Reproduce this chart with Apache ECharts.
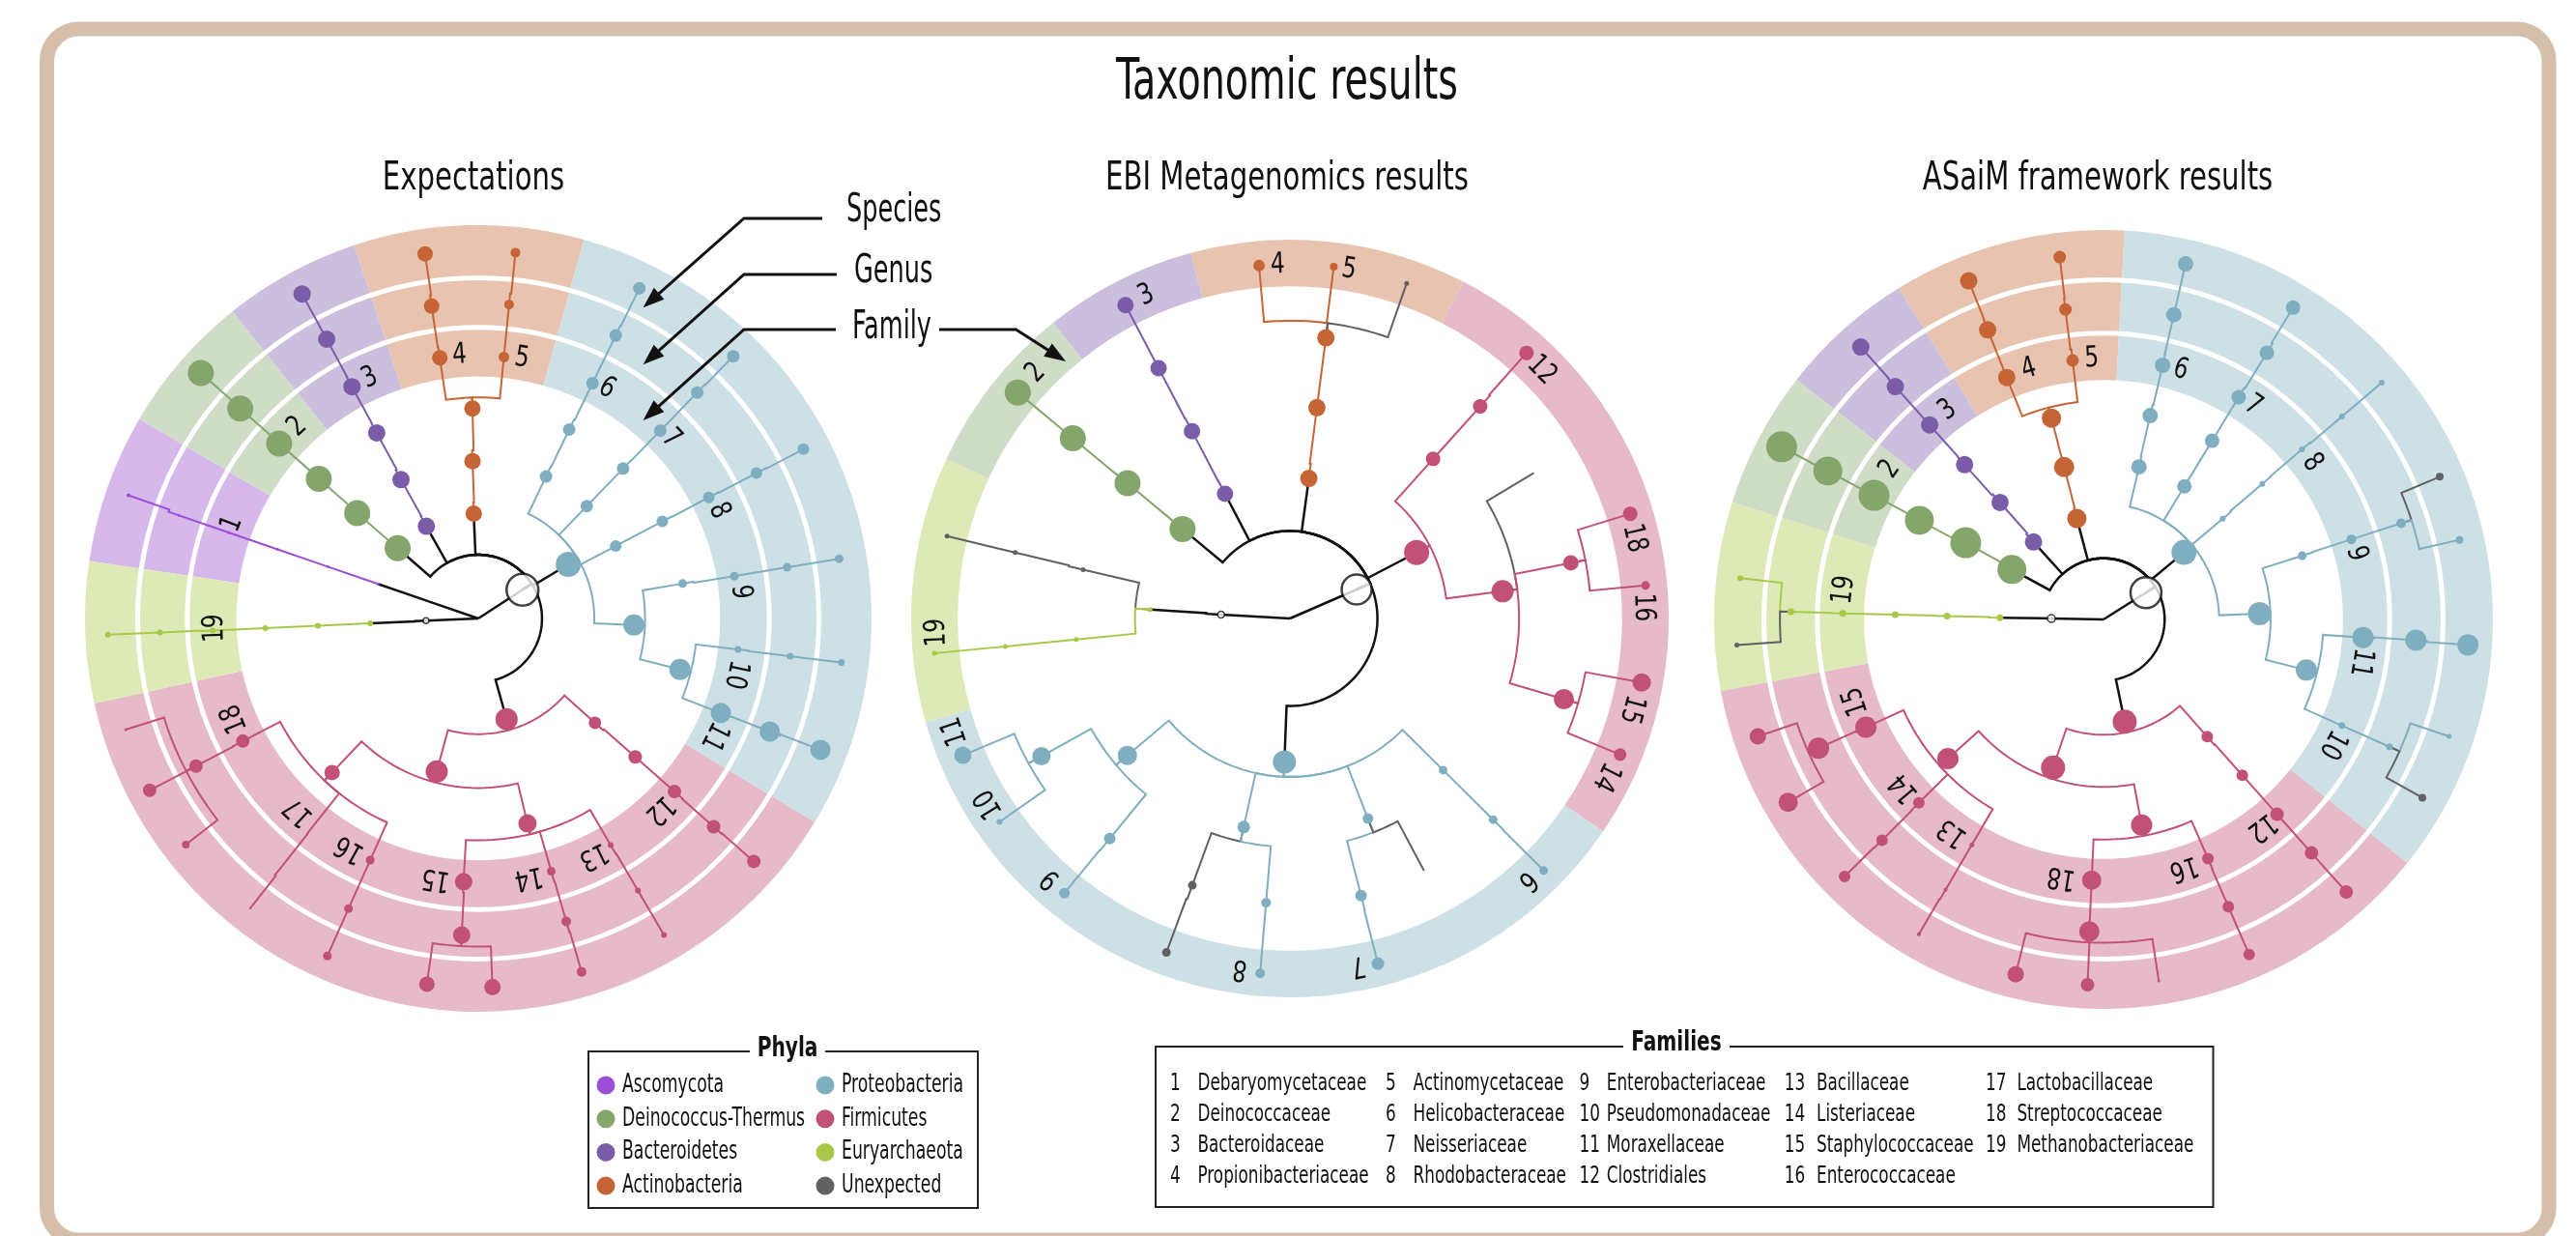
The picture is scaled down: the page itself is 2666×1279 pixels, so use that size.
<!DOCTYPE html>
<html>
<head>
<meta charset="utf-8">
<script src="https://cdn.jsdelivr.net/npm/echarts@6/dist/echarts.min.js"></script>
<style>
  html, body { margin: 0; padding: 0; background: #fff; }
  #chart { width: 2666px; height: 1279px; }
</style>
</head>
<body>
<div id="chart"></div>
<script>
// phyla shown in the legend, with the key used by the tree nodes
const phyla = ['Ascomycota', 'Deinococcus-Thermus', 'Bacteroidetes', 'Actinobacteria',
               'Proteobacteria', 'Firmicutes', 'Euryarchaeota', 'Unexpected'];
const phylumKeys = ['asc', 'dei', 'bac', 'act', 'pro', 'fir', 'eur', 'unx'];
const families = ['Debaryomycetaceae', 'Deinococcaceae', 'Bacteroidaceae', 'Propionibacteriaceae',
  'Actinomycetaceae', 'Helicobacteraceae', 'Neisseriaceae', 'Rhodobacteraceae',
  'Enterobacteriaceae', 'Pseudomonadaceae', 'Moraxellaceae', 'Clostridiales',
  'Bacillaceae', 'Listeriaceae', 'Staphylococcaceae', 'Enterococcaceae',
  'Lactobacillaceae', 'Streptococcaceae', 'Methanobacteriaceae'];
const panelTitles = ['Expectations', 'EBI Metagenomics results', 'ASaiM framework results'];

// tree nodes: [id, parent, radius (0-100), angle (deg, ccw from east), dot size, key]
const leftNodes = [
  ['root', null, 0, 0, 0, 'root'],
  ['B', 'root', 13.4, 33, 33, 'kb'], ['A', 'root', 13.3, 182.4, 6, 'ks'], ['E', 'root', 13.5, 161, 0, 'k0'],
  ['a1', 'E', 27, 161, 3, 'asc'], ['a2', 'a1', 40.5, 161, 3, 'asc'], ['a3', 'a2', 54, 161, 3, 'asc'],
  ['a4', 'a3', 67, 161, 3, 'asc'], ['a5', 'a4', 80.5, 161, 3, 'asc'], ['a6', 'a5', 94.3, 160.6, 4, 'asc'],
  ['e1', 'A', 27.5, 182.6, 6, 'eur'], ['e2', 'e1', 40.8, 182.6, 6, 'eur'], ['e3', 'e2', 54.2, 182.6, 6, 'eur'],
  ['e4', 'e3', 67.6, 182.6, 6, 'eur'], ['e5', 'e4', 81, 182.5, 6, 'eur'], ['e6', 'e5', 94.3, 182.5, 6, 'eur'],
  ['d1', 'B', 27.2, 138.9, 27, 'dei'], ['d2', 'd1', 40.8, 139, 27, 'dei'], ['d3', 'd2', 53.9, 138.8, 27, 'dei'],
  ['d4', 'd3', 67.4, 138.7, 27, 'dei'], ['d5', 'd4', 80.7, 138.6, 27, 'dei'], ['d6', 'd5', 94.2, 138.5, 27, 'dei'],
  ['b1', 'B', 26.9, 119.4, 18, 'bac'], ['b2', 'b1', 40.4, 119.1, 18, 'bac'], ['b3', 'b2', 53.8, 118.7, 18, 'bac'],
  ['b4', 'b3', 67.1, 118.6, 18, 'bac'], ['b5', 'b4', 80.8, 118.5, 18, 'bac'], ['b6', 'b5', 93.9, 118.5, 18, 'bac'],
  ['c1', 'B', 26.7, 92.5, 17, 'act'], ['c2', 'c1', 40, 92.1, 17, 'act'], ['c3', 'c2', 53.4, 91.6, 17, 'act'],
  ['c4', 'c3', 67, 98.4, 16, 'act'], ['c5', 'c4', 80.3, 98.5, 16, 'act'], ['c6', 'c5', 93.7, 98.3, 16, 'act'],
  ['c7', 'c3', 66.8, 84.4, 11, 'act'], ['c8', 'c7', 80.2, 84.4, 10, 'act'], ['c9', 'c8', 93.5, 84.2, 10, 'act'],
  ['p0', 'B', 26.7, 31, 26, 'pro'],
  ['p1', 'p0', 40, 64.5, 13, 'pro'], ['p2', 'p1', 53.3, 64.3, 13, 'pro'], ['p3', 'p2', 66.5, 64.1, 13, 'pro'],
  ['p4', 'p3', 80, 64.1, 13, 'pro'], ['p5', 'p4', 93.4, 64, 13, 'pro'],
  ['p6', 'p0', 39.7, 46, 13, 'pro'], ['p7', 'p6', 53, 46, 13, 'pro'], ['p8', 'p7', 66.5, 45.9, 13, 'pro'],
  ['p9', 'p8', 80, 45.9, 13, 'pro'], ['p10', 'p9', 93, 45.8, 13, 'pro'],
  ['p11', 'p0', 39.5, 27.8, 12, 'pro'], ['p12', 'p11', 52.9, 27.8, 12, 'pro'], ['p13', 'p12', 66.2, 27.7, 12, 'pro'],
  ['p14', 'p13', 79.8, 27.6, 12, 'pro'], ['p15', 'p14', 93.2, 27.5, 12, 'pro'],
  ['p16', 'p0', 39.6, -2.4, 22, 'pro'],
  ['p17', 'p16', 52.7, 9.7, 9, 'pro'], ['p18', 'p17', 66, 9.4, 9, 'pro'], ['p19', 'p18', 79.6, 9.4, 9, 'pro'],
  ['p20', 'p19', 93, 9.4, 9, 'pro'],
  ['p21', 'p16', 52.9, -14.2, 22, 'pro'],
  ['p22', 'p21', 66.5, -6.8, 7, 'pro'], ['p23', 'p22', 79.9, -6.9, 7, 'pro'], ['p24', 'p23', 93, -6.9, 7, 'pro'],
  ['p25', 'p21', 66.2, -21.3, 21, 'pro'], ['p26', 'p25', 79.5, -21.2, 21, 'pro'], ['p27', 'p26', 93.2, -21, 21, 'pro'],
  ['f0', 'B', 26.6, -74.3, 23, 'fir'],
  ['f1', 'f0', 39.8, -41.8, 13, 'fir'], ['f2', 'f1', 53.2, -41.4, 14, 'fir'], ['f3', 'f2', 66.5, -41.4, 14, 'fir'],
  ['f4', 'f3', 79.9, -41.5, 14, 'fir'], ['f5', 'f4', 93.4, -41.4, 14, 'fir'],
  ['f6', 'f0', 40.3, -105.2, 23, 'fir'],
  ['f7', 'f6', 54, -133.5, 16, 'fir'],
  ['f8', 'f7', 67.5, -152.5, 14, 'fir'], ['f9', 'f8', 81, -152.4, 14, 'fir'],
  ['f10', 'f9', 94, -162.5, 3, 'fir'], ['f11', 'f9', 94.3, -152.4, 14, 'fir'], ['f12', 'f9', 94, -142.3, 8, 'fir'],
  ['f13', 'f7', 67, -128.5, 0, 'fir'], ['f14', 'f13', 80.5, -128.4, 0, 'fir'], ['f15', 'f14', 94, -128.2, 0, 'fir'],
  ['f16', 'f7', 67.3, -114.1, 9, 'fir'], ['f17', 'f16', 80.8, -114.1, 9, 'fir'], ['f18', 'f17', 94, -114.1, 9, 'fir'],
  ['f19', 'f6', 53.6, -76.5, 19, 'fir'],
  ['f20', 'f19', 67, -93.2, 18, 'fir'], ['f21', 'f20', 80.6, -93, 18, 'fir'],
  ['f22', 'f21', 93.9, -98, 16, 'fir'], ['f23', 'f21', 93.8, -87.8, 17, 'fir'],
  ['f24', 'f19', 66.9, -73.9, 9, 'fir'], ['f25', 'f24', 80.2, -73.8, 10, 'fir'], ['f26', 'f25', 93.6, -73.7, 10, 'fir'],
  ['f27', 'f19', 66.7, -59.7, 6, 'fir'], ['f28', 'f27', 80.2, -59.6, 6, 'fir'], ['f29', 'f28', 93.3, -59.6, 6, 'fir']
];

const midNodes = [
  ['root', null, 0, 0, 0, 'root'],
  ['B', 'root', 19.2, 23.5, 31, 'kb'], ['A', 'root', 18.2, 176.8, 7, 'ks'],
  ['d1', 'B', 36.9, 140.2, 27, 'dei'], ['d2', 'd1', 55.8, 140.2, 27, 'dei'], ['d3', 'd2', 74.5, 140.3, 27, 'dei'],
  ['d4', 'd3', 93.4, 140.3, 27, 'dei'],
  ['b1', 'B', 37.1, 117.5, 17, 'bac'], ['b2', 'b1', 55.8, 117.6, 17, 'bac'], ['b3', 'b2', 74.6, 117.7, 17, 'bac'],
  ['b4', 'b3', 93.4, 117.7, 17, 'bac'],
  ['c1', 'B', 37.3, 82.3, 18, 'act'], ['c2', 'c1', 56.1, 82.7, 18, 'act'], ['c3', 'c2', 74.7, 82.7, 18, 'act'],
  ['c4', 'c3', 93.5, 95, 12, 'act'], ['c5', 'c3', 93.6, 82.9, 8, 'act'], ['c6', 'c3', 93.7, 70.8, 5, 'unx'],
  ['f0', 'B', 37.7, 27.5, 26, 'fir'],
  ['f1', 'f0', 56.6, 48.1, 15, 'fir'], ['f2', 'f1', 75.2, 48.1, 15, 'fir'], ['f3', 'f2', 93.9, 48.3, 15, 'fir'],
  ['f4', 'f0', 56.6, 7.3, 23, 'fir'],
  ['f5', 'f4', 75, 30.8, 0, 'unx'],
  ['f6', 'f4', 75.6, 11.2, 16, 'fir'], ['f7', 'f6', 94, 17.1, 15, 'fir'], ['f8', 'f6', 94.3, 5.3, 9, 'fir'],
  ['f9', 'f4', 75.4, -16.4, 21, 'fir'], ['f10', 'f9', 94.4, -10.3, 19, 'fir'], ['f11', 'f9', 94.3, -22.4, 13, 'fir'],
  ['p0', 'B', 37.9, -92.2, 24, 'pro'],
  ['p1', 'p0', 56.1, -139.9, 20, 'pro'],
  ['p2', 'p1', 75, -151, 19, 'pro'], ['p3', 'p2', 93.6, -157.3, 18, 'pro'], ['p4', 'p2', 93.6, -145, 6, 'pro'],
  ['p5', 'p1', 75.1, -129.3, 12, 'pro'], ['p6', 'p5', 93.8, -129.4, 11, 'pro'],
  ['p7', 'p0', 56.4, -102.5, 13, 'pro'],
  ['p8', 'p7', 75, -110.1, 9, 'unx'], ['p9', 'p8', 94, -110.3, 9, 'unx'],
  ['p10', 'p7', 75.3, -94.8, 10, 'pro'], ['p11', 'p10', 94, -94.8, 10, 'pro'],
  ['p12', 'p0', 56.7, -68.7, 11, 'pro'],
  ['p13', 'p12', 75.5, -75.6, 12, 'pro'], ['p14', 'p13', 94, -75.7, 13, 'pro'],
  ['p15', 'p12', 75.4, -62, 0, 'unx'],
  ['p16', 'p0', 56.9, -44.7, 9, 'pro'], ['p17', 'p16', 75.5, -44.7, 9, 'pro'], ['p18', 'p17', 94.4, -44.8, 9, 'pro'],
  ['e0', 'A', 37, 176.3, 5, 'eur'],
  ['u1', 'e0', 56.1, 166.7, 5, 'unx'], ['u2', 'u1', 74.6, 166.5, 5, 'unx'], ['u3', 'u2', 93.1, 166.5, 5, 'unx'],
  ['e1', 'e0', 56.7, 185.6, 5, 'eur'], ['e2', 'e1', 75.5, 185.6, 5, 'eur'], ['e3', 'e2', 94.3, 185.6, 5, 'eur']
];

const rightNodes = [
  ['root', null, 0, 0, 0, 'root'],
  ['B', 'root', 12.9, 32.3, 32, 'kb'], ['A', 'root', 13.4, 179, 8, 'ks'],
  ['e1', 'A', 26.6, 179, 7, 'eur'], ['e2', 'e1', 40.2, 178.8, 7, 'eur'], ['e3', 'e2', 53.5, 178.7, 7, 'eur'],
  ['e4', 'e3', 67, 178.7, 7, 'eur'], ['e5', 'e4', 80.3, 178.6, 7, 'eur'],
  ['e6', 'e5', 93.9, 173.5, 6, 'eur'], ['e7', 'e5', 94.4, 184, 5, 'unx'],
  ['c1', 'B', 26.8, 104.8, 20, 'act'], ['c2', 'c1', 40.4, 104.5, 21, 'act'], ['c3', 'c2', 53.4, 104.5, 20, 'act'],
  ['c4', 'c3', 66.9, 111.8, 18, 'act'], ['c5', 'c4', 80.1, 111.8, 18, 'act'], ['c6', 'c5', 93.6, 111.7, 18, 'act'],
  ['c7', 'c3', 67, 96.8, 13, 'act'], ['c8', 'c7', 80.2, 97, 13, 'act'], ['c9', 'c8', 93.7, 96.9, 13, 'act'],
  ['b1', 'B', 26.8, 132.1, 18, 'bac'], ['b2', 'b1', 40.1, 131.5, 18, 'bac'], ['b3', 'b2', 53.4, 131.9, 18, 'bac'],
  ['b4', 'b3', 67, 131.8, 18, 'bac'], ['b5', 'b4', 80.2, 131.8, 18, 'bac'], ['b6', 'b5', 93.7, 131.7, 18, 'bac'],
  ['d1', 'B', 26.8, 151.4, 30, 'dei'], ['d2', 'd1', 40.5, 150.9, 32, 'dei'], ['d3', 'd2', 53.7, 151.7, 30, 'dei'],
  ['d4', 'd3', 67, 151.6, 32, 'dei'], ['d5', 'd4', 80.4, 151.7, 30, 'dei'], ['d6', 'd5', 93.8, 151.8, 32, 'dei'],
  ['p0', 'B', 26.9, 39.8, 26, 'pro'],
  ['p1', 'p0', 40.2, 76.9, 16, 'pro'], ['p2', 'p1', 53.7, 77.1, 16, 'pro'], ['p3', 'p2', 67, 76.9, 16, 'pro'],
  ['p4', 'p3', 80.3, 77, 16, 'pro'], ['p5', 'p4', 93.7, 77, 16, 'pro'],
  ['p6', 'p0', 40, 58.7, 15, 'pro'], ['p7', 'p6', 53.7, 58.7, 15, 'pro'], ['p8', 'p7', 66.8, 58.7, 15, 'pro'],
  ['p9', 'p8', 80.3, 58.5, 15, 'pro'], ['p10', 'p9', 93.7, 58.7, 15, 'pro'],
  ['p11', 'p0', 40.1, 40.2, 6, 'pro'], ['p12', 'p11', 53.6, 40.5, 6, 'pro'], ['p13', 'p12', 67.1, 40.6, 6, 'pro'],
  ['p14', 'p13', 80.4, 40.4, 6, 'pro'], ['p15', 'p14', 93.8, 40.4, 6, 'pro'],
  ['p16', 'p0', 40.1, 2.1, 24, 'pro'],
  ['p17', 'p16', 53.6, 17.8, 9, 'pro'], ['p18', 'p17', 66.9, 17.9, 10, 'pro'], ['p19', 'p18', 80.3, 17.9, 10, 'pro'],
  ['p20', 'p19', 93.8, 23, 8, 'unx'], ['p21', 'p19', 93.7, 12.6, 8, 'pro'],
  ['p22', 'p16', 53.7, -14, 22, 'pro'],
  ['p23', 'p22', 66.8, -4, 22, 'pro'], ['p24', 'p23', 80.4, -3.8, 22, 'pro'], ['p25', 'p24', 93.8, -4, 22, 'pro'],
  ['p26', 'p22', 67, -24, 7, 'pro'], ['p27', 'p26', 80.4, -24, 7, 'pro'],
  ['p28', 'p27', 93.7, -18.7, 5, 'pro'], ['p29', 'p27', 93.8, -29.2, 8, 'unx'],
  ['f0', 'B', 26.8, -78.3, 25, 'fir'],
  ['f1', 'f0', 40.2, -48.5, 12, 'fir'], ['f2', 'f1', 53.6, -48.3, 12, 'fir'], ['f3', 'f2', 67, -48.3, 14, 'fir'],
  ['f4', 'f3', 80.3, -48.3, 14, 'fir'], ['f5', 'f4', 93.7, -48.3, 14, 'fir'],
  ['f6', 'f0', 40.2, -108.8, 25, 'fir'],
  ['f7', 'f6', 53.6, -138.2, 22, 'fir'],
  ['f8', 'f7', 67, -155.6, 22, 'fir'], ['f9', 'f8', 80.3, -155.7, 22, 'fir'],
  ['f10', 'f9', 93.7, -161.3, 17, 'fir'], ['f11', 'f9', 93.6, -149.9, 20, 'fir'],
  ['f12', 'f7', 66.8, -135.2, 12, 'fir'], ['f13', 'f12', 80.3, -135.1, 12, 'fir'], ['f14', 'f13', 93.7, -135.2, 12, 'fir'],
  ['f15', 'f7', 67, -120.3, 5, 'fir'], ['f16', 'f15', 80.4, -120.3, 4, 'fir'], ['f17', 'f16', 93.7, -120.4, 4, 'fir'],
  ['f18', 'f6', 53.7, -79.5, 22, 'fir'],
  ['f19', 'f18', 67, -92.6, 20, 'fir'], ['f20', 'f19', 80.2, -92.6, 21, 'fir'],
  ['f21', 'f20', 93.9, -103.9, 17, 'fir'], ['f22', 'f20', 93.9, -92.5, 14, 'fir'], ['f23', 'f20', 93.9, -81.3, 3, 'fir'],
  ['f24', 'f18', 67, -66.4, 12, 'fir'], ['f25', 'f24', 80.4, -66.5, 12, 'fir'], ['f26', 'f25', 93.8, -66.5, 12, 'fir']
];

// coloured sectors behind each tree: [from angle, to angle, phylum key]
const leftBands = [[149.5, 171.6, 'asc'], [128.7, 149.5, 'dei'], [108.4, 128.7, 'bac'], [74.4, 108.4, 'act'],
                   [-31.2, 74.4, 'pro'], [192.5, 328.8, 'fir'], [171.6, 192.5, 'eur']];
const midBands = [[128.7, 155.1, 'dei'], [105.2, 128.7, 'bac'], [62.8, 105.2, 'act'], [-34.2, 62.8, 'fir'],
                  [195.9, 325.8, 'pro'], [155.1, 195.9, 'eur']];
const rightBands = [[86.9, 121.7, 'act'], [121.7, 142, 'bac'], [142, 162.5, 'dei'], [162.5, 190.6, 'eur'],
                    [190.6, 321.3, 'fir'], [-38.7, 86.9, 'pro']];

// family number labels: [text, angle]
const leftLabels = [['1', 159], ['2', 133.4], ['3', 114.3], ['4', 94.1], ['5', 80.5], ['6', 60.8], ['7', 43],
  ['8', 24.1], ['9', 5.8], ['10', -12.3], ['11', -26.5], ['12', -46.5], ['13', -64.1], ['14', -79],
  ['15', -99.3], ['16', -119.2], ['17', -132.9], ['18', -157.7], ['19', 182.1]];
const midLabels = [['2', 136], ['3', 114], ['4', 92], ['5', 80.4], ['12', 44.6], ['18', 13.1], ['16', 1.8],
  ['15', -14.9], ['14', -26.6], ['6', -47.8], ['7', -78.9], ['8', -98.1], ['9', -132.6], ['10', -148.4],
  ['11', -161.4], ['19', 182.3]];
const rightLabels = [['2', 144.9], ['3', 126.7], ['4', 106.6], ['5', 92.6], ['6', 72.8], ['7', 55], ['8', 36.9],
  ['9', 14.6], ['11', -9.5], ['10', -28.6], ['12', -52.7], ['16', -72.1], ['18', -99.3], ['13', -125.3],
  ['14', -139.8], ['15', -161.7], ['19', 173.5]];

const FONT = "'Liberation Sans Narrow', 'DejaVu Sans Condensed', 'Arial Narrow', sans-serif";
const nodeColors = { asc: '#9b4fd8', dei: '#84a66d', bac: '#7a5ca8', act: '#c56535', pro: '#80aec1',
                     fir: '#c15176', eur: '#a6ca48', unx: '#616161' };
const bandColors = { asc: '#d7b8ea', dei: '#cfdcc6', bac: '#ccbfdd', act: '#e8c3b0', pro: '#cde0e6',
                     fir: '#e6bac8', eur: '#dde9b7' };

const trees = [
  { nodes: leftNodes, bands: leftBands, labels: leftLabels, ring: [61.5, 100], gaps: [74, 86.6], labelR: 67, elbow: 2.8 },
  { nodes: midNodes, bands: midBands, labels: midLabels, ring: [87.7, 100], gaps: [], labelR: 93.3, elbow: 3.9 },
  { nodes: rightNodes, bands: rightBands, labels: rightLabels, ring: [61.5, 100], gaps: [73.5, 87.2], labelR: 67, elbow: 2.8 }
];

const norm = a => ((a % 360) + 360) % 360;
const TAU = Math.PI * 2;

function centerOf(api) { return api.coord([0, 0]); }
function pxRadius(api, c, r) { const p = api.coord([r, 0]); return Math.hypot(p[0] - c[0], p[1] - c[1]); }
function screenAngle(api, c, a) { const p = api.coord([50, norm(a)]); return Math.atan2(p[1] - c[1], p[0] - c[0]); }

function treeSeries(t, i) {
  const byId = {};
  t.nodes.forEach(n => { byId[n[0]] = n; });
  const series = [];

  // sectors
  series.push({
    type: 'custom', coordinateSystem: 'polar', polarIndex: i, z: 1, silent: true,
    data: t.bands.map(b => [t.ring[0], norm(b[0]), t.ring[1], norm(b[1])]),
    renderItem(params, api) {
      const b = t.bands[params.dataIndex];
      const c = centerOf(api);
      const s0 = screenAngle(api, c, b[0]), s1 = screenAngle(api, c, b[1]);
      let span = (s0 - s1) % TAU; if (span <= 0) span += TAU;
      return {
        type: 'sector',
        shape: { cx: c[0], cy: c[1], r0: pxRadius(api, c, api.value(0)), r: pxRadius(api, c, api.value(2)),
                 startAngle: s1, endAngle: s1 + span, clockwise: true },
        style: { fill: bandColors[b[2]] }
      };
    }
  });

  // white rings splitting family / genus / species
  if (t.gaps.length) {
    series.push({
      type: 'custom', coordinateSystem: 'polar', polarIndex: i, z: 2, silent: true,
      data: t.gaps.map(g => [g, 0]),
      renderItem(params, api) {
        const c = centerOf(api);
        return { type: 'circle', shape: { cx: c[0], cy: c[1], r: pxRadius(api, c, api.value(0)) },
                 style: { fill: null, stroke: '#fff', lineWidth: 5 } };
      }
    });
  }

  // branches: radial step out of the parent, arc, radial step to the child
  const edges = t.nodes.filter(n => n[1] !== null);
  series.push({
    type: 'custom', coordinateSystem: 'polar', polarIndex: i, z: 3, silent: true,
    data: edges.map(n => { const p = byId[n[1]]; return [n[2], norm(n[3]), p[2], norm(p[3])]; }),
    renderItem(params, api) {
      const n = edges[params.dataIndex], p = byId[n[1]];
      const rc = api.value(0), ac = api.value(1), rp = api.value(2), ap = api.value(3);
      const black = ['root', 'kb', 'ks', 'k0'].indexOf(p[5]) >= 0;
      let pts;
      if (rp === 0) {
        pts = [api.coord([0, 0]), api.coord([rc, ac])];
      } else {
        const ra = rp + t.elbow;
        const d = ((ac - ap) % 360 + 540) % 360 - 180;
        const steps = Math.max(1, Math.ceil(Math.abs(d) / 1.5));
        pts = [api.coord([rp, ap])];
        for (let k = 0; k <= steps; k++) pts.push(api.coord([ra, norm(ap + d * k / steps)]));
        pts.push(api.coord([rc, ac]));
      }
      return { type: 'polyline', shape: { points: pts },
               style: { fill: null, stroke: black ? '#111' : nodeColors[n[5]], lineWidth: black ? 2.5 : 2 } };
    }
  });

  // dots
  series.push({
    type: 'scatter', coordinateSystem: 'polar', polarIndex: i, z: 4, silent: true,
    data: t.nodes.filter(n => n[4] > 0).map(n => {
      const king = n[5] === 'kb' || n[5] === 'ks';
      return {
        value: [n[2], norm(n[3])], symbolSize: n[4],
        itemStyle: king ? { color: '#fff', borderColor: '#111', borderWidth: n[5] === 'kb' ? 2.5 : 1.5 }
                        : { color: nodeColors[n[5]], opacity: 1 }
      };
    })
  });

  // family numbers, rotated along the circle
  series.push({
    type: 'custom', coordinateSystem: 'polar', polarIndex: i, z: 5, silent: true,
    data: t.labels.map(l => [t.labelR, norm(l[1])]),
    renderItem(params, api) {
      const l = t.labels[params.dataIndex];
      const p = api.coord([api.value(0), api.value(1)]);
      return { type: 'text', x: p[0], y: p[1], rotation: (l[1] - 90) * Math.PI / 180, scaleX: 0.86,
               style: { text: l[0], fontSize: 30, fontFamily: FONT, fill: '#111',
                        align: 'center', verticalAlign: 'middle' } };
    }
  });
  return series;
}

// ---- decoration: frame, titles, annotations, legends ----
const graphics = [];
function text(x, y, s, size, sx, extra, z) {
  return { type: 'text', x: x, y: y, z: z || 20, scaleX: sx,
    style: Object.assign({ text: s, fontSize: size, fontFamily: FONT, fill: '#111',
                           align: 'center', verticalAlign: 'middle' }, extra || {}) };
}
function arrow(pts) {
  const tip = pts[pts.length - 1], prev = pts[pts.length - 2];
  const dx = tip[0] - prev[0], dy = tip[1] - prev[1], L = Math.hypot(dx, dy);
  const ux = dx / L, uy = dy / L, len = 22, w = 8;
  const bx = tip[0] - ux * len, by = tip[1] - uy * len;
  graphics.push({ type: 'polyline', z: 20, shape: { points: pts.slice(0, -1).concat([[bx + ux * 4, by + uy * 4]]) },
                  style: { stroke: '#111', lineWidth: 3, fill: null } });
  graphics.push({ type: 'polygon', z: 20, shape: { points: [tip, [bx - uy * w, by + ux * w], [bx + uy * w, by - ux * w]] },
                  style: { fill: '#111' } });
}

graphics.push({ type: 'rect', z: 0, shape: { x: 48.5, y: 30, width: 2589.5, height: 1253, r: 33 },
                style: { fill: null, stroke: '#d5bfaa', lineWidth: 15 } });
graphics.push(text(1332, 87, 'Taxonomic results', 58, 0.76));
[490, 1332, 2171].forEach((x, k) => graphics.push(text(x, 185, panelTitles[k], 41, 0.79)));

graphics.push(text(876, 219, 'Species', 40, 0.71, { align: 'left' }));
graphics.push(text(884, 282, 'Genus', 40, 0.71, { align: 'left' }));
graphics.push(text(882, 340, 'Family', 40, 0.71, { align: 'left' }));
arrow([[851, 226], [770, 226], [665.6, 318.3]]);
arrow([[866, 284], [770, 284], [665.6, 377.3]]);
arrow([[865, 341], [770, 341], [665.6, 435]]);
arrow([[972, 341], [1051.5, 341], [1103, 374]]);

// phyla legend
graphics.push({ type: 'rect', z: 20, shape: { x: 609, y: 1088, width: 403, height: 162 },
                style: { fill: null, stroke: '#222', lineWidth: 2 } });
graphics.push({ type: 'rect', z: 21, shape: { x: 776, y: 1080, width: 78, height: 16 }, style: { fill: '#fff' } });
graphics.push(text(815, 1086, 'Phyla', 28, 0.8, { fontWeight: 'bold' }, 22));
phyla.forEach((name, k) => {
  const col = Math.floor(k / 4), row = k % 4;
  const cx = col ? 854 : 627, y = 1123 + row * 34.7;
  graphics.push({ type: 'circle', z: 20, shape: { cx: cx, cy: y, r: 9.5 }, style: { fill: nodeColors[phylumKeys[k]] } });
  graphics.push(text(cx + 17, y, name, 27, 0.71, { align: 'left' }));
});

// families legend
const famColX = [1211, 1434, 1634.5, 1846.8, 2055];
const famNameX = [1239.5, 1462.5, 1662.8, 1880, 2087.4];
graphics.push({ type: 'rect', z: 20, shape: { x: 1196, y: 1083, width: 1094.5, height: 166 },
                style: { fill: null, stroke: '#222', lineWidth: 2 } });
graphics.push({ type: 'rect', z: 21, shape: { x: 1680, y: 1074, width: 110, height: 16 }, style: { fill: '#fff' } });
graphics.push(text(1735, 1080, 'Families', 28, 0.8, { fontWeight: 'bold' }, 22));
families.forEach((name, k) => {
  const col = Math.floor(k / 4), row = k % 4, y = 1121.7 + row * 31.9;
  graphics.push(text(famColX[col], y, String(k + 1), 24, 0.78, { align: 'left' }));
  graphics.push(text(famNameX[col], y, name, 24, 0.78, { align: 'left' }));
});

const chart = echarts.init(document.getElementById('chart'));
const polarCenters = [[495, 640], [1335, 640], [2177, 641]];
const polarRadii = [407, 392, 403];
chart.setOption({
  animation: false,
  backgroundColor: '#fff',
  polar: polarCenters.map((c, i) => ({ center: c, radius: polarRadii[i] })),
  angleAxis: polarCenters.map((c, i) => ({ polarIndex: i, type: 'value', min: 0, max: 360,
                                             startAngle: 0, clockwise: false, show: false })),
  radiusAxis: polarCenters.map((c, i) => ({ polarIndex: i, type: 'value', min: 0, max: 100, show: false })),
  graphic: graphics,
  series: trees.flatMap((t, i) => treeSeries(t, i))
});
</script>
</body>
</html>
